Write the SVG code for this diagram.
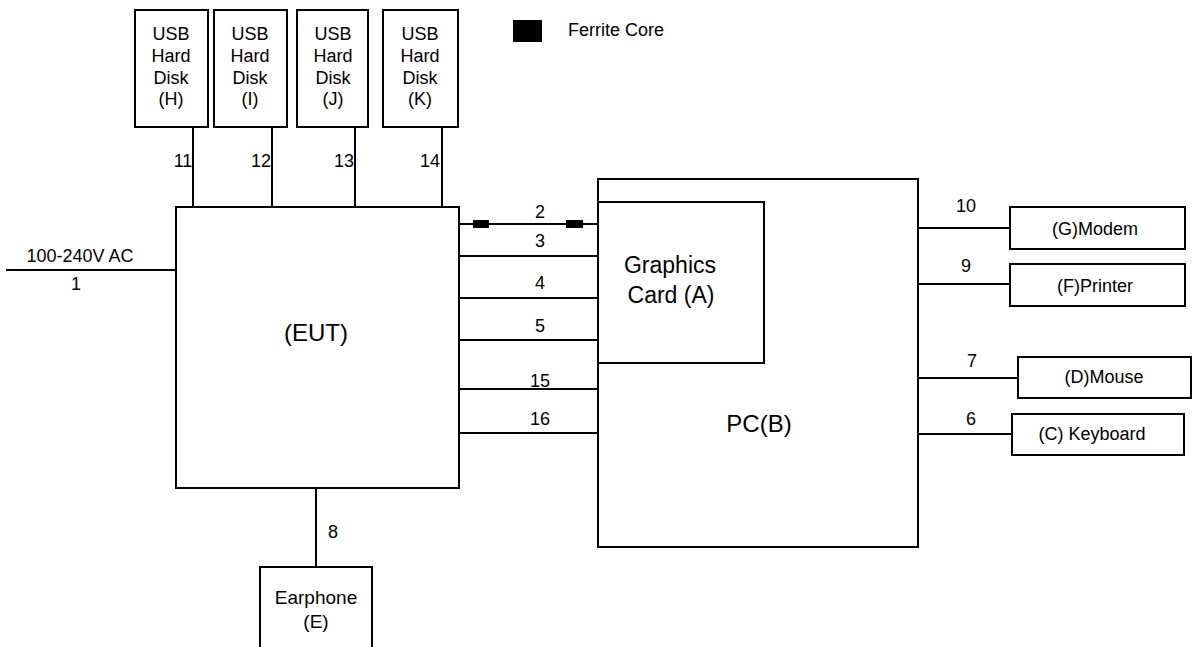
<svg xmlns="http://www.w3.org/2000/svg" width="1192" height="647" viewBox="0 0 1192 647">
<style>
.box{fill:#fff;stroke:#000;stroke-width:2}
.ln{stroke:#000;stroke-width:2;fill:none}
text{font-family:"Liberation Sans",Arial,sans-serif;fill:#000}
.s{font-size:18px}
.m{font-size:18px;text-anchor:middle}
.b{font-size:24px;text-anchor:middle}
.g{font-size:23px;text-anchor:middle}
</style>
<rect width="1192" height="647" fill="#fff"/>
<g id="connectors">
<line class="ln" x1="6" y1="270" x2="176" y2="270"/>
<line class="ln" x1="193" y1="127" x2="193" y2="207"/>
<line class="ln" x1="272" y1="127" x2="272" y2="207"/>
<line class="ln" x1="355" y1="127" x2="355" y2="207"/>
<line class="ln" x1="442" y1="127" x2="442" y2="207"/>
<line class="ln" x1="459" y1="224" x2="598" y2="224"/>
<rect x="473" y="220" width="16" height="8" fill="#000"/>
<rect x="566" y="220" width="17" height="8" fill="#000"/>
<line class="ln" x1="459" y1="256" x2="598" y2="256"/>
<line class="ln" x1="459" y1="298" x2="598" y2="298"/>
<line class="ln" x1="459" y1="340" x2="598" y2="340"/>
<line class="ln" x1="459" y1="389" x2="598" y2="389"/>
<line class="ln" x1="457" y1="433" x2="603" y2="433"/>
<line class="ln" x1="316" y1="488" x2="316" y2="567"/>
<line class="ln" x1="918" y1="228" x2="1010" y2="228"/>
<line class="ln" x1="918" y1="284" x2="1010" y2="284"/>
<line class="ln" x1="918" y1="378" x2="1018" y2="378"/>
<line class="ln" x1="918" y1="434" x2="1012" y2="434"/>
<text class="m" x="80" y="262">100-240V AC</text>
<text class="m" x="76" y="290">1</text>
<text class="m" x="183" y="167">11</text>
<text class="m" x="261" y="167">12</text>
<text class="m" x="344" y="167">13</text>
<text class="m" x="430" y="167">14</text>
<text class="m" x="540" y="218">2</text>
<text class="m" x="540" y="247">3</text>
<text class="m" x="540" y="289">4</text>
<text class="m" x="540" y="332">5</text>
<text class="m" x="540" y="387">15</text>
<text class="m" x="540" y="425">16</text>
<text class="m" x="333" y="538">8</text>
<text class="m" x="966" y="212">10</text>
<text class="m" x="966" y="272">9</text>
<text class="m" x="972" y="367">7</text>
<text class="m" x="971" y="425">6</text>
</g>
<g id="legend">
<rect x="513" y="20" width="29" height="22" fill="#000"/>
<text class="s" x="568" y="36">Ferrite Core</text>
</g>
<g id="usbH"><rect class="box" x="135" y="10" width="73" height="117"/>
<text class="m" x="171" y="40">USB</text><text class="m" x="171" y="62">Hard</text><text class="m" x="171" y="84">Disk</text><text class="m" x="171" y="105">(H)</text></g>
<g id="usbI"><rect class="box" x="214" y="10" width="73" height="117"/>
<text class="m" x="250" y="40">USB</text><text class="m" x="250" y="62">Hard</text><text class="m" x="250" y="84">Disk</text><text class="m" x="250" y="105">(I)</text></g>
<g id="usbJ"><rect class="box" x="297" y="10" width="71" height="117"/>
<text class="m" x="333" y="40">USB</text><text class="m" x="333" y="62">Hard</text><text class="m" x="333" y="84">Disk</text><text class="m" x="333" y="105">(J)</text></g>
<g id="usbK"><rect class="box" x="383" y="10" width="75" height="117"/>
<text class="m" x="420" y="40">USB</text><text class="m" x="420" y="62">Hard</text><text class="m" x="420" y="84">Disk</text><text class="m" x="420" y="105">(K)</text></g>
<g id="eut"><rect class="box" x="176" y="207" width="283" height="281"/>
<text class="b" x="316" y="341">(EUT)</text></g>
<g id="pc"><rect class="box" x="598" y="179" width="320" height="368"/>
<text class="b" x="759" y="432">PC(B)</text></g>
<g id="graphics"><rect class="box" x="598" y="202" width="166" height="161"/>
<text class="g" x="670" y="273">Graphics</text><text class="g" x="671" y="303">Card (A)</text></g>
<g id="earphone"><rect class="box" x="260" y="567" width="112" height="90"/>
<text class="m" x="316" y="604" style="font-size:19px">Earphone</text><text class="m" x="316" y="628" style="font-size:19px">(E)</text></g>
<g id="modem"><rect class="box" x="1010" y="207" width="175" height="42"/>
<text class="m" x="1095" y="235">(G)Modem</text></g>
<g id="printer"><rect class="box" x="1010" y="264" width="175" height="42"/>
<text class="m" x="1095" y="292">(F)Printer</text></g>
<g id="mouse"><rect class="box" x="1018" y="357" width="173" height="41"/>
<text class="m" x="1104" y="383">(D)Mouse</text></g>
<g id="keyboard"><rect class="box" x="1012" y="414" width="172" height="41"/>
<text class="m" x="1092" y="440">(C) Keyboard</text></g>
</svg>
